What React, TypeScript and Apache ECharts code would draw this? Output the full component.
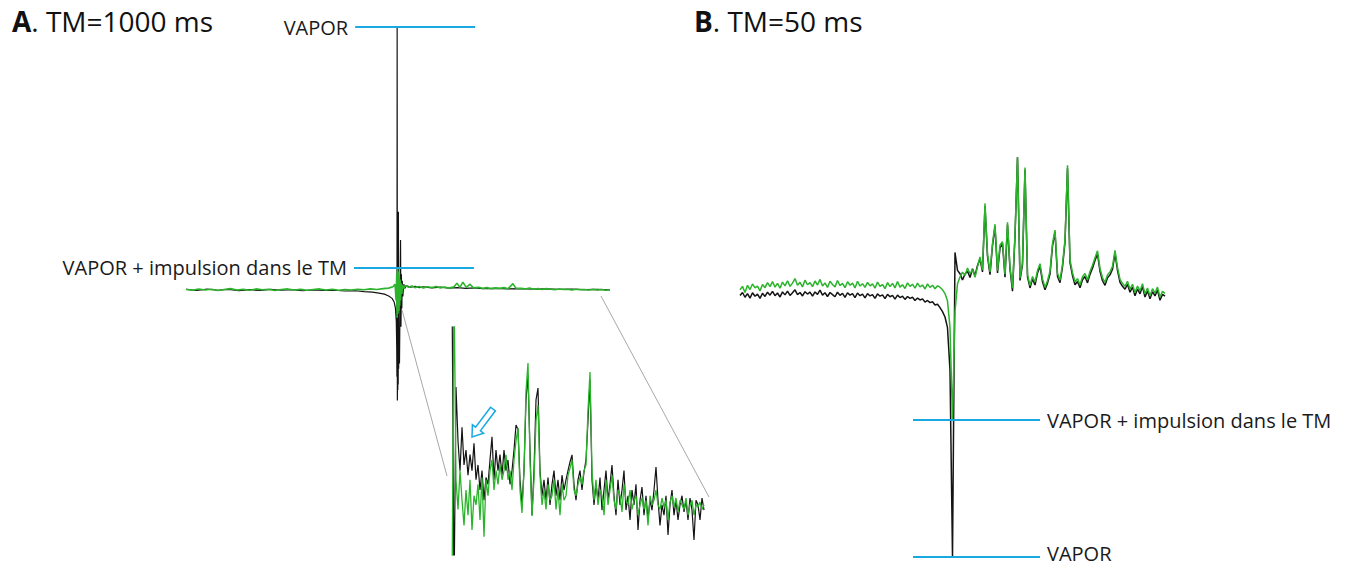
import React, { useEffect, useRef } from "react";
import * as echarts from "echarts";

// ---------- Panel A, full spectrum (x: arbitrary shift units 0..100, y: intensity, VAPOR peak = 100) ----------
const vaporMainA: number[][] = [
  [0, 0.2], [2.5, -0.2], [5, 0.3], [7.5, -0.1], [10, 0.2], [12.5, -0.3], [15, 0.1], [17.5, -0.2], [20, 0.2],
  [22.5, -0.1], [25, 0.1], [27.5, -0.3], [30, 0], [32.5, -0.2], [35, -0.1], [37.5, -0.4], [40, -0.3], [42, -0.6],
  [44, -0.8], [45.5, -1.2], [46.8, -1.6], [47.8, -2.3], [48.6, -3.2], [49.1, -4.6], [49.4, -7], [49.6, -12],
  [49.7, -22], [49.75, -33], [49.8, 100], [49.85, -42], [49.9, -25], [49.95, -38], [50.0, -18], [50.05, -36],
  [50.1, 29.7], [50.15, -30], [50.25, -15], [50.35, -28], [50.45, -10], [50.6, 19], [50.7, -14], [50.8, 6],
  [50.9, -7], [51.0, 3.5], [51.15, -2.5], [51.35, 2.2], [51.6, 0.6], [52, 1.6], [53, 1.1], [54, 1.4], [55, 0.9],
  [56, 1.2], [58, 0.8], [60, 1.1], [62, 0.7], [64, 0.9], [66, 0.6], [68, 0.8], [70, 0.5], [73, 0.6], [76, 0.4],
  [79, 0.5], [82, 0.3], [85, 0.4], [88, 0.2], [91, 0.3], [94, 0.1], [97, 0.2], [100, 0],
];
const pulseMainA: number[][] = [
  [0, 0.3], [1.5, -0.1], [3, 0.4], [4.5, 0], [6, 0.3], [7.5, -0.2], [9, 0.2], [10.5, 0.5], [12, 0], [13.5, 0.3],
  [15, -0.1], [16.5, 0.4], [18, 0.1], [19.5, 0.3], [21, -0.2], [22.5, 0.2], [24, 0.4], [25.5, 0], [27, 0.3],
  [28.5, -0.1], [30, 0.2], [31.5, 0.4], [33, 0], [34.5, 0.3], [36, -0.1], [37.5, 0.2], [39, 0], [40.5, 0.3],
  [42, 0.1], [43.5, 0.4], [45, 0.2], [46.5, 0.5], [47.8, 0.7], [48.8, 1.2], [49.3, 2.2], [49.55, -4], [49.7, 6],
  [49.8, -10.6], [49.9, 8.4], [50.0, -9], [50.1, 7], [50.2, -8], [50.3, 5], [50.4, -6], [50.5, 4], [50.6, -4],
  [50.75, 2.5], [50.9, -1.5], [51.1, 2], [51.4, 0.6], [51.8, 1.7], [52.5, 1.0], [53.3, 1.5], [54, 0.9], [55, 1.3],
  [56, 0.8], [57, 1.2], [58, 0.9], [59, 1.3], [60, 0.8], [61, 1.1], [62, 0.7], [63.2, 1.2], [63.9, 2.6],
  [64.6, 1.0], [65.3, 3.0], [66.1, 1.0], [67, 2.2], [67.8, 0.8], [69, 1.0], [70, 0.6], [71, 0.9], [72, 0.5],
  [73, 0.8], [74, 0.6], [75, 0.9], [76, 0.5], [77.1, 2.4], [77.8, 0.7], [79, 0.6], [80, 0.4], [81, 0.7], [82, 0.3],
  [83, 0.5], [84, 0.2], [85, 0.5], [86, 0.3], [87, 0.1], [88, 0.4], [89, 0.2], [90, 0.3], [91, 0], [92, 0.3],
  [93, 0.1], [94, 0.2], [95, 0], [96, 0.3], [97, 0], [98, 0.2], [99, -0.1], [100, 0.1],
];
// reference levels for panel A: [x start, x end, level, label]
const levelsA: [number, number, number, string][] = [
  [39.9, 68.2, 100, "VAPOR"],
  [39.6, 67.9, 8.4, "VAPOR + impulsion dans le TM"],
];

// ---------- Panel A, zoomed inset (x: point index, y: intensity 0..100, off-scale water line at start) ----------
const vaporInsetA: number[] = [
  120, -20, 73.7, 50, 37, 56, 39.5, 46, 35, 44, 37, 49, 33, 39.5, 28.5, 37, 24, 34, 31, 41.7,
  51.8, 33, 46, 37, 44, 35, 46, 37, 41.7, 31, 37, 46, 57, 55, 33, 22, 37, 68, 79, 46,
  17.5, 37, 68, 73.2, 37, 26, 33, 24, 34, 22, 31, 37, 26, 33, 24, 35, 28.5, 33, 37, 40.8,
  43.9, 31, 24, 33, 37, 28.5, 36.4, 41.7, 59, 76.8, 33, 22, 31, 24, 34, 19.7, 28.5, 37, 24, 31,
  39.5, 26, 17.5, 33, 22, 28.5, 37, 19.7, 26, 15.4, 28.5, 22, 31, 11, 24, 29.8, 17.5, 26, 15.4, 24,
  19.7, 28.5, 38.6, 24, 13, 22, 17.5, 26, 8.8, 22, 28.5, 17.5, 24, 15.4, 22, 26, 18.9, 24, 15.4, 25,
  19.7, 6.6, 24, 22, 15.4, 25, 19.7,
];
const pulseInsetA: number[] = [
  -20, 120, 33, 20, 37, 24, 13, 28.5, 17.5, 33, 11, 26, 22, 31, 15.4, 34, 8, 33, 26, 37,
  41.7, 28.5, 37, 31, 39.5, 33, 37, 44, 33, 37, 28.5, 41.7, 50, 55.7, 28.5, 18.4, 37, 72, 84.2, 41.7,
  17.1, 33, 59, 65.8, 35, 22, 28.5, 20, 31, 24, 26, 33, 20, 28.5, 17.5, 31, 24, 26, 35, 38,
  41.7, 28.5, 26, 31, 34, 31, 37, 39.5, 63.6, 80.3, 37, 24, 33, 22, 28.5, 26, 17.5, 33, 22, 28.5,
  35, 24, 20, 28.5, 26, 18.9, 31, 24, 22, 28.5, 20, 24, 26, 17.5, 22, 25, 20, 24, 13, 26,
  22, 24, 28.5, 22, 20, 25, 21, 24, 15.4, 23.2, 26, 21, 25, 18.9, 24, 22, 20, 25, 17.5, 22,
  24, 17.5, 22, 21, 23.2, 20, 22,
];

// ---------- Panel B (x: point index, y: intensity, VAPOR trough = -100) ----------
const vaporB: number[] = [
  -1.9, -0.8, -2.6, -1.2, -2.9, -0.9, -2.2, -1.4, -3.0, -1.1, -2.3, -0.7, -1.8, -0.4, -2.0, -1.0, -2.5, -0.6, -1.7, -0.3,
  -1.9, -0.9, 0.2, -1.6, -0.8, -2.1, -0.5, -1.4, -0.7, -2.2, -0.6, -1.5, 0.1, -1.8, -0.9, -2.3, -0.8, -1.6, -2.4, -0.7,
  -1.9, -1.1, -2.6, -0.9, -1.8, -1.2, -2.7, -1.0, -2.0, -1.4, -2.8, -1.2, -2.1, -1.6, -3.0, -1.3, -2.2, -1.7, -3.1, -1.5,
  -2.4, -1.9, -3.3, -1.8, -2.7, -2.2, -3.4, -2.3, -3.0, -2.6, -3.8, -2.9, -3.6, -3.2, -4.4, -3.8, -4.6, -4.3, -5.5, -5.2,
  -6.5, -8.0, -10, -14, -30, -100, 14.2, 7.5, 6.2, 3.9, 6.1, 7.2, 4.8, 8.1, 5.5, 9.3, 11.8, 6.9, 31.5, 12.8,
  5.9, 16.8, 23.9, 6.5, 15.8, 17.6, 4.9, 24.6, 7.9, -0.3, 20.2, 49.9, 3.7, 9.6, 45.2, 5.1, 0.9, 4.3, 2.0, 6.5,
  9.1, 3.2, 0.2, 2.7, 6.1, 16.6, 21.9, 5.2, 2.9, 8.8, 18.1, 45.8, 10.4, 5.5, 2.1, 3.3, 1.0, 4.0, 5.2, 2.8,
  6.0, 8.3, 11.2, 13.7, 7.1, 3.6, 1.9, 4.7, 5.8, 7.9, 13.9, 7.5, 3.0, 1.5, 0.4, 2.3, -0.7, 1.2, -2.0, 0.5,
  -1.3, 1.4, -2.5, -0.2, -3.2, -0.5, -2.1, 0.1, -3.7, -1.5, -2.2,
];
const pulseB: number[] = [
  0.2, 1.5, -0.8, 1.9, 0.3, 2.4, 0.9, 1.6, -0.2, 2.2, 1.0, 2.9, 1.4, 3.3, 1.2, 2.6, 0.8, 3.1, 1.7, 3.6,
  1.5, 2.7, 4.4, 1.9, 3.0, 1.3, 3.8, 2.1, 2.9, 1.4, 3.5, 2.0, 4.1, 1.6, 2.8, 1.1, 3.4, 2.2, 1.3, 3.7,
  1.8, 2.6, 1.0, 3.2, 1.9, 2.7, 0.9, 3.4, 1.6, 2.5, 1.1, 3.0, 1.7, 2.4, 0.8, 3.1, 1.5, 2.2, 0.6, 2.9,
  1.4, 2.6, 0.9, 3.3, 1.2, 2.1, 0.7, 2.8, 1.5, 2.3, 0.8, 2.7, 1.3, 2.0, 0.5, 2.4, 1.1, 1.9, 0.6, 1.7,
  1.2, 0.2, -1.2, -4, -14, -48.7, -8, 2.5, 5.0, 6.8, 5.6, 8.4, 6.2, 7.8, 4.9, 8.8, 12.5, 7.6, 32.6, 13.5,
  6.9, 17.5, 24.8, 7.4, 17.0, 18.2, 6.1, 25.5, 8.8, 0.8, 21.0, 49.9, 4.6, 10.5, 46.1, 6.0, 1.8, 5.2, 3.1, 7.4,
  10.0, 4.3, 1.1, 3.6, 7.2, 17.5, 22.6, 6.4, 3.8, 9.7, 19.0, 46.9, 11.5, 6.6, 3.2, 4.4, 2.0, 5.1, 6.3, 3.9,
  7.1, 9.4, 12.2, 14.8, 8.2, 4.7, 3.0, 5.8, 6.9, 9.0, 15.0, 8.6, 4.1, 2.6, 1.5, 3.4, 0.4, 2.3, -0.9, 1.6,
  -0.2, 2.5, -1.4, 0.9, -2.1, 0.6, -1.0, 1.2, -2.6, -0.4, -1.1,
];
const levelsB: [number, number, number, string][] = [
  [69.2, 120, -48.7, "VAPOR + impulsion dans le TM"],
  [69.2, 120, -100, "VAPOR"],
];

const titles = ["A", ". TM=1000 ms", "B", ". TM=50 ms"];

const GREEN = "#2bb42b";
const BLACK = "#141414";
const CYAN = "#19a9e2";
const FONT = "'Open Sans', 'Noto Sans', sans-serif";

// the lowest label sits at the picture's bottom edge, so it is drawn as a separate text slightly raised
const isBottom = (l: [number, number, number, string]) => l[2] <= -100;

function levelMarks(levels: [number, number, number, string][], position: string) {
  return {
    silent: true,
    symbol: ["none", "none"],
    lineStyle: { color: CYAN, width: 2, type: "solid" },
    label: {
      show: true,
      position,
      formatter: "{b}",
      color: "#1a1a1a",
      fontSize: 20,
      lineHeight: 20,
      fontFamily: FONT,
      distance: 7,
    },
    emphasis: { disabled: true },
    data: levels.map((l) => [
      { name: isBottom(l) ? "" : l[3], coord: [l[0], l[2]] },
      { coord: [l[1], l[2]] },
    ]),
  };
}

const indexed = (arr: number[]) => arr.map((v, i) => [i, v]);

function lineSeries(data: number[][], color: string, grid: number, width: number, extra: any = {}) {
  return {
    type: "line",
    xAxisIndex: grid,
    yAxisIndex: grid,
    data,
    showSymbol: false,
    symbol: "none",
    lineStyle: { color, width },
    itemStyle: { color },
    silent: true,
    ...extra,
  };
}

export default function App() {
  const ref = useRef<HTMLDivElement>(null);
  useEffect(() => {
    const chart = echarts.init(ref.current!, null, { renderer: "svg" });
    const titleStyle = (x: number, bold: string, rest: string) => ({
      type: "text",
      style: {
        x,
        y: 21,
        text: `{b|${bold}}{n|${rest}}`,
        verticalAlign: "middle",
        rich: {
          b: { fontSize: 28, fontWeight: "bold", fontFamily: FONT, fill: "#111", color: "#111" },
          n: { fontSize: 28, fontFamily: FONT, fill: "#111", color: "#111" },
        },
      },
    });
    const arrowPts = [
      [490.6, 407.2], [475.6, 427.2], [472.4, 424.8], [472, 437], [483.6, 433.2], [480.4, 430.8], [495.4, 410.8],
    ];
    const bottomLabel = levelsB.find(isBottom)!;
    chart.setOption({
      animation: false,
      backgroundColor: "#ffffff",
      grid: [
        { left: 186, top: 24.4, width: 424, height: 376 },
        { left: 452, top: 327, width: 253, height: 228 },
        { left: 740, top: 157, width: 425, height: 402.7 },
      ],
      xAxis: [
        { type: "value", gridIndex: 0, min: 0, max: 100, show: false },
        { type: "value", gridIndex: 1, min: 0, max: 126.5, show: false },
        { type: "value", gridIndex: 2, min: 0, max: 170, show: false },
      ],
      yAxis: [
        { type: "value", gridIndex: 0, min: -42, max: 101, show: false },
        { type: "value", gridIndex: 1, min: 0, max: 100, show: false },
        { type: "value", gridIndex: 2, min: -101, max: 50, show: false },
      ],
      series: [
        lineSeries(vaporMainA, BLACK, 0, 1.2),
        lineSeries(pulseMainA, GREEN, 0, 1.6, { markLine: levelMarks(levelsA, "start") }),
        lineSeries(indexed(vaporInsetA), BLACK, 1, 1.2),
        lineSeries(indexed(pulseInsetA), GREEN, 1, 1.3),
        lineSeries(indexed(vaporB), BLACK, 2, 1.5),
        lineSeries(indexed(pulseB), GREEN, 2, 1.5, { markLine: levelMarks(levelsB, "end") }),
      ],
      graphic: [
        titleStyle(12, titles[0], titles[1]),
        titleStyle(694, titles[2], titles[3]),
        {
          type: "text",
          style: {
            x: 1047,
            y: 553,
            text: bottomLabel[3],
            verticalAlign: "middle",
            fontSize: 20,
            fontFamily: FONT,
            fill: "#1a1a1a",
          },
        },
        { type: "line", shape: { x1: 402, y1: 310, x2: 447, y2: 476 }, style: { stroke: "#a8a8a8", lineWidth: 1 } },
        { type: "line", shape: { x1: 601, y1: 296, x2: 709, y2: 497 }, style: { stroke: "#a8a8a8", lineWidth: 1 } },
        { type: "polygon", shape: { points: arrowPts }, style: { fill: "#ffffff", stroke: CYAN, lineWidth: 1.5 } },
      ],
    });
    return () => chart.dispose();
  }, []);
  return (
    <div
      ref={ref}
      style={{ position: "absolute", left: 0, top: 0, width: 1348, height: 568, background: "#fff" }}
    />
  );
}
